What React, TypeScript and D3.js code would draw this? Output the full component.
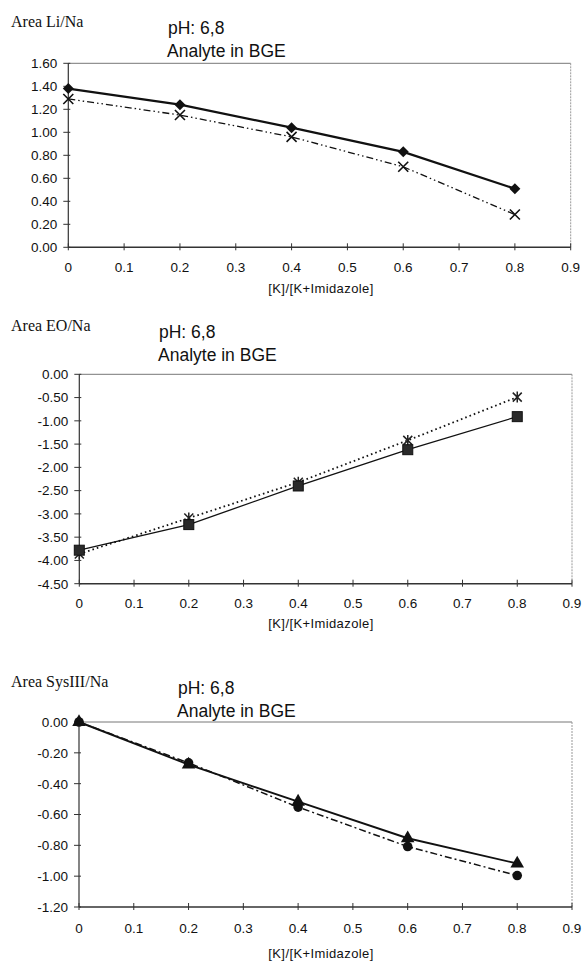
import { useEffect, useRef } from "react";
import * as d3 from "d3";

// x values shared by all three panels
const ratios = [0, 0.2, 0.4, 0.6, 0.8];
const xTickLabels = ["0", "0.1", "0.2", "0.3", "0.4", "0.5", "0.6", "0.7", "0.8", "0.9"];

// panel 1: Area Li/Na
const liDiamond = [1.38, 1.24, 1.04, 0.83, 0.51];
const liCross = [1.29, 1.15, 0.96, 0.7, 0.285];
const liTicks = [0, 0.2, 0.4, 0.6, 0.8, 1.0, 1.2, 1.4, 1.6];

// panel 2: Area EO/Na
const eoSquare = [-3.78, -3.23, -2.4, -1.62, -0.91];
const eoStar = [-3.86, -3.09, -2.32, -1.42, -0.49];
const eoTicks = [0, -0.5, -1, -1.5, -2, -2.5, -3, -3.5, -4, -4.5];

// panel 3: Area SysIII/Na
const sysTriangle = [0, -0.276, -0.517, -0.754, -0.918];
const sysCircle = [0, -0.265, -0.552, -0.808, -0.996];
const sysTicks = [0, -0.2, -0.4, -0.6, -0.8, -1.0, -1.2];

const SANS = "Arial, 'Liberation Sans', Helvetica, sans-serif";
const SERIF = "'Times New Roman', 'Liberation Serif', serif";

type Series = {
  values: number[];
  marker: "diamond" | "cross" | "square" | "star" | "triangle" | "circle";
  width: number;
  dash: string | null;
};

type Panel = {
  label: string;
  labelY: number;
  titleX: number;
  titleY: number;
  left: number;
  right: number;
  top: number;
  bottom: number;
  ticks: number[];
  tickLabelY: number;
  axisLabelY: number;
  series: Series[];
};

const panels: Panel[] = [
  {
    label: "Area Li/Na", labelY: 27, titleX: 168, titleY: 33.5,
    left: 68.3, right: 570.7, top: 63.3, bottom: 247.3,
    ticks: liTicks, tickLabelY: 272, axisLabelY: 293,
    series: [
      { values: liCross, marker: "cross", width: 1.3, dash: "7,3,1.5,3,1.5,3" },
      { values: liDiamond, marker: "diamond", width: 2.2, dash: null },
    ],
  },
  {
    label: "Area EO/Na", labelY: 331, titleX: 159, titleY: 337.5,
    left: 79.3, right: 572, top: 374.3, bottom: 583.7,
    ticks: eoTicks, tickLabelY: 607.5, axisLabelY: 628,
    series: [
      { values: eoStar, marker: "star", width: 1.8, dash: "1.6,3" },
      { values: eoSquare, marker: "square", width: 1.3, dash: null },
    ],
  },
  {
    label: "Area SysIII/Na", labelY: 687, titleX: 178, titleY: 693.5,
    left: 79, right: 572, top: 722, bottom: 907,
    ticks: sysTicks, tickLabelY: 933, axisLabelY: 958,
    series: [
      { values: sysCircle, marker: "circle", width: 1.5, dash: "7,3,2,3" },
      { values: sysTriangle, marker: "triangle", width: 1.9, dash: null },
    ],
  },
];

export default function App() {
  const ref = useRef<SVGSVGElement | null>(null);

  useEffect(() => {
    const svg = d3.select(ref.current);
    svg.selectAll("*").remove();
    svg.append("rect").attr("width", 582).attr("height", 963).attr("fill", "#fff");

    panels.forEach((p) => {
      const g = svg.append("g");
      const x = d3.scaleLinear().domain([0, 0.9]).range([p.left, p.right]);
      const y = d3.scaleLinear()
        .domain([d3.min(p.ticks) as number, d3.max(p.ticks) as number])
        .range([p.bottom, p.top]);

      // headings
      g.append("text").attr("x", 11).attr("y", p.labelY)
        .attr("font-family", SERIF).attr("font-size", 16).attr("fill", "#111")
        .text(p.label);
      g.append("text").attr("x", p.titleX).attr("y", p.titleY)
        .attr("font-family", SANS).attr("font-size", 17.5).attr("fill", "#111")
        .text("pH: 6,8");
      g.append("text").attr("x", p.titleX - 1).attr("y", p.titleY + 23.5)
        .attr("font-family", SANS).attr("font-size", 17.5).attr("fill", "#111")
        .text("Analyte in BGE");

      // frame: top + right lighter, left + bottom axis darker
      g.append("line").attr("x1", p.left).attr("x2", p.right).attr("y1", p.top).attr("y2", p.top)
        .attr("stroke", "#777").attr("stroke-width", 1);
      g.append("line").attr("x1", p.right).attr("x2", p.right).attr("y1", p.top).attr("y2", p.bottom)
        .attr("stroke", "#999").attr("stroke-width", 1).attr("stroke-dasharray", "2,1");
      g.append("line").attr("x1", p.left).attr("x2", p.left).attr("y1", p.top).attr("y2", p.bottom)
        .attr("stroke", "#333").attr("stroke-width", 1.2);
      g.append("line").attr("x1", p.left).attr("x2", p.right).attr("y1", p.bottom).attr("y2", p.bottom)
        .attr("stroke", "#333").attr("stroke-width", 1.4);

      // y ticks
      p.ticks.forEach((t) => {
        g.append("line").attr("x1", p.left - 5).attr("x2", p.left + 2)
          .attr("y1", y(t)).attr("y2", y(t)).attr("stroke", "#333").attr("stroke-width", 1);
        g.append("text").attr("x", p.left - 11).attr("y", y(t)).attr("dy", "0.36em")
          .attr("text-anchor", "end").attr("font-family", SANS).attr("font-size", 13.5)
          .attr("fill", "#111").text(Math.abs(t) < 1e-9 ? "0.00" : t.toFixed(2));
      });

      // x ticks
      xTickLabels.forEach((lab) => {
        const v = +lab;
        g.append("line").attr("x1", x(v)).attr("x2", x(v))
          .attr("y1", p.bottom - 4).attr("y2", p.bottom + 3).attr("stroke", "#333").attr("stroke-width", 1);
        g.append("text").attr("x", x(v)).attr("y", p.tickLabelY).attr("text-anchor", "middle")
          .attr("font-family", SANS).attr("font-size", 13.5).attr("fill", "#111").text(lab);
      });
      g.append("text").attr("x", 321).attr("y", p.axisLabelY).attr("text-anchor", "middle")
        .attr("font-family", SANS).attr("font-size", 13).attr("letter-spacing", 0.4)
        .attr("fill", "#111").text("[K]/[K+Imidazole]");

      // series
      p.series.forEach((s) => {
        const pts = ratios.map((r, i) => [x(r), y(s.values[i])] as [number, number]);
        const line = d3.line();
        const path = g.append("path").attr("d", line(pts)).attr("fill", "none")
          .attr("stroke", "#111").attr("stroke-width", s.width);
        if (s.dash) path.attr("stroke-dasharray", s.dash);

        pts.forEach(([px, py]) => {
          if (s.marker === "cross") {
            g.append("path").attr("d", `M${px - 5},${py - 5}L${px + 5},${py + 5}M${px - 5},${py + 5}L${px + 5},${py - 5}`)
              .attr("stroke", "#111").attr("stroke-width", 1.6).attr("fill", "none");
          } else if (s.marker === "star") {
            g.append("path").attr("d", `M${px - 4.5},${py - 4.5}L${px + 4.5},${py + 4.5}M${px - 4.5},${py + 4.5}L${px + 4.5},${py - 4.5}M${px},${py - 5.5}L${px},${py + 5.5}`)
              .attr("stroke", "#222").attr("stroke-width", 1.5).attr("fill", "none");
          } else if (s.marker === "square") {
            g.append("rect").attr("x", px - 5).attr("y", py - 5).attr("width", 10).attr("height", 10)
              .attr("fill", "#2a2a2a").attr("stroke", "#111").attr("stroke-width", 1);
          } else if (s.marker === "circle") {
            g.append("circle").attr("cx", px).attr("cy", py).attr("r", 4.8).attr("fill", "#111");
          } else if (s.marker === "diamond") {
            g.append("path").attr("d", `M${px},${py - 5.5}L${px + 5.5},${py}L${px},${py + 5.5}L${px - 5.5},${py}Z`)
              .attr("fill", "#111");
          } else {
            g.append("path").attr("d", d3.symbol().type(d3.symbolTriangle).size(80)())
              .attr("transform", `translate(${px},${py})`).attr("fill", "#111");
          }
        });
      });
    });
  }, []);

  return (
    <div style={{ position: "absolute", left: 0, top: 0 }}>
      <svg ref={ref} width={582} height={963} style={{ display: "block" }} />
    </div>
  );
}
